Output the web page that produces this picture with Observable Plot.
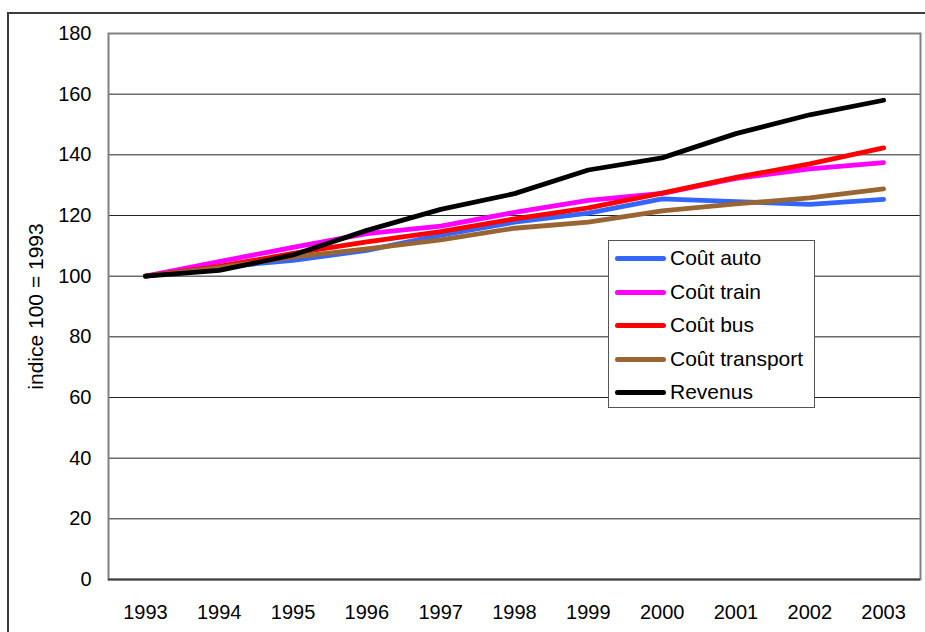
<!DOCTYPE html>
<html><head><meta charset="utf-8">
<script src="https://cdn.jsdelivr.net/npm/d3@7"></script>
<script src="https://cdn.jsdelivr.net/npm/@observablehq/plot@0.6"></script>
<style>
html,body{margin:0;padding:0;background:#fff;overflow:hidden;}
#wrap{position:relative;width:925px;height:632px;font-family:"Liberation Sans",Arial,sans-serif;}
#border{position:absolute;left:7px;top:12px;width:940px;height:650px;border-top:2px solid #3c3c3c;border-left:2px solid #3c3c3c;}
#chart{position:absolute;left:0;top:0;}
#legend{position:absolute;left:608px;top:240px;width:207px;height:168px;border:1px solid #555;background:#fff;box-sizing:border-box;}
.row{position:absolute;left:0;height:34px;}
.sw{position:absolute;left:6px;width:51px;height:5px;border-radius:2.5px;}
.lb{position:absolute;left:61px;font-size:21px;color:#000;white-space:nowrap;line-height:34px;}
</style>
</head><body>
<div id="wrap"><div id="border"></div><div id="chart"></div><div id="legend"></div></div>
<script>
const years = ["1993","1994","1995","1996","1997","1998","1999","2000","2001","2002","2003"];
const seriesNames = ["Coût auto","Coût train","Coût bus","Coût transport","Revenus"];
const seriesColors = ["#3366FF","#FF00FF","#FF0000","#996633","#000000"];
const coutAuto      = [100, 103.0, 105.2, 108.5, 113.5, 117.8, 120.8, 125.5, 124.6, 123.7, 125.3];
const coutTrain     = [100, 104.8, 109.5, 114.0, 116.5, 121.0, 125.0, 127.3, 132.2, 135.4, 137.4];
const coutBus       = [100, 103.2, 107.5, 111.3, 114.7, 118.9, 122.5, 127.4, 132.6, 137.0, 142.3];
const coutTransport = [100, 102.8, 106.3, 109.0, 112.0, 115.8, 117.8, 121.5, 123.8, 125.8, 128.8];
const revenus       = [100, 101.9, 107.0, 115.1, 122.0, 127.2, 135.0, 139.0, 147.0, 153.2, 158.0];
const yTicks = [0,20,40,60,80,100,120,140,160,180];
const yLabel = "indice 100 = 1993";

const seriesValues = [coutAuto, coutTrain, coutBus, coutTransport, revenus];
const tables = seriesNames.map((name, i) =>
  years.map((y, j) => ({year: y, value: seriesValues[i][j], series: name})));

const plot = Plot.plot({
  width: 925, height: 632,
  marginLeft: 108, marginRight: 5, marginTop: 33, marginBottom: 53,
  style: {background: "transparent", fontFamily: "'Liberation Sans', Arial, sans-serif", overflow: "visible"},
  x: {type: "point", domain: years, padding: 0.5, round: false},
  y: {domain: [0, 180], round: false},
  color: {domain: seriesNames, range: seriesColors},
  marks: [
    Plot.ruleY(yTicks, {stroke: "#222", strokeWidth: 1}),
    Plot.frame({stroke: "#808080", strokeWidth: 2}),
    Plot.ruleY([0], {stroke: "#404040", strokeWidth: 2}),
    ...tables.map(t => Plot.line(t, {x: "year", y: "value", stroke: "series", strokeWidth: 4.8, strokeLinejoin: "round", strokeLinecap: "round"})),
    Plot.axisY({ticks: yTicks, tickSize: 0, tickPadding: 17, fontSize: 20, label: null, fill: "#000"}),
    Plot.axisX({tickSize: 0, tickPadding: 25, fontSize: 20, label: null, fill: "#000"}),
    Plot.text([yLabel], {text: d => d, frameAnchor: "left", textAnchor: "middle", lineAnchor: "middle", dx: -72, rotate: -90, fontSize: 21, fill: "#000"})
  ]
});
document.getElementById("chart").appendChild(plot);

const legend = d3.select("#legend");
seriesNames.forEach((name, i) => {
  const row = legend.append("div").attr("class", "row").style("top", (0 + i * 33.5) + "px").style("width", "100%");
  row.append("div").attr("class", "sw").style("background", seriesColors[i]).style("top", "15px");
  row.append("div").attr("class", "lb").text(name);
});
</script>
</body></html>
